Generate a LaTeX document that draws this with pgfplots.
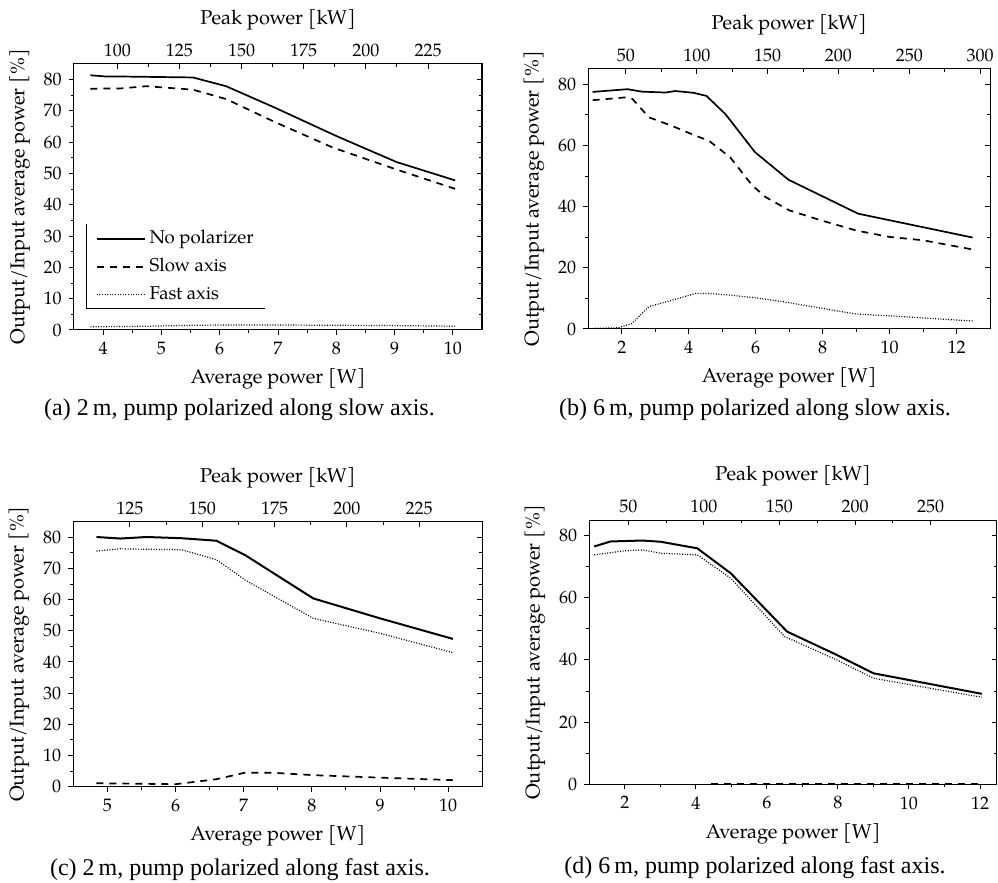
\documentclass[border=0pt]{standalone}
\usepackage{pgfplots}
\pgfplotsset{compat=1.18}
\usepackage{fontspec}
\setmainfont{Liberation Serif}
\newfontfamily\pal{TeX Gyre Pagella}

% shared look of every panel
\pgfplotsset{
  base/.style={
    scale only axis, anchor=south west,
    ymin=0, ymax=85,
    axis line style={line width=0.5pt,-},
    every tick/.style={line width=0.5pt,black},
    major tick length=2.6pt, minor tick length=1.5pt,
    tick label style={font=\pal\fontsize{9}{10}\selectfont},
    label style={font=\pal\fontsize{10}{12}\selectfont},
    /pgf/number format/assume math mode=true,
  },
  lowerleft/.style={
    base, tick align=outside,
    xtick pos=left, ytick pos=left,
    minor x tick num=1, minor y tick num=1,
    xlabel={Average power [W]},
    ylabel={Output/Input average power [\%]},
    no markers,
  },
  upperright/.style={
    base, tick align=inside,
    axis x line*=top, axis y line*=right,
    minor x tick num=1, minor y tick num=1,
    yticklabels={},
    xlabel={Peak power [kW]},
  },
  nopol/.style={black, line width=0.85pt},
  slow/.style={black, line width=0.85pt, dash pattern=on 3.5pt off 3pt},
  fast/.style={black, line width=0.6pt, dash pattern=on 0.5pt off 0.8pt},
}

\begin{document}
\begin{tikzpicture}
\useasboundingbox (0,0) rectangle (499pt,441.5pt);

% ---------------- (a) 2 m, slow-axis pump ----------------
\begin{axis}[lowerleft, at={(37pt,276.5pt)}, width=204pt, height=133pt,
  xmin=3.5, xmax=10.5, xtick={4,...,10}, ytick={0,10,...,80},
  legend cell align=left,
  legend image code/.code={\draw[#1] (0pt,0pt) -- (24pt,0pt);},
  legend style={draw=none, fill=none, at={(rel axis cs:0.053,0.397)},
    anchor=north west, inner sep=0pt, row sep=0pt,
    font=\pal\fontsize{9.3}{11}\selectfont,
    nodes={text height=7pt, text depth=2pt, inner ysep=2.5pt, inner xsep=2pt}},
]
\addplot[nopol] coordinates {(3.78,81.4) (4.05,81.0) (4.3,81.0) (5.54,80.7)
  (6.11,77.9) (6.94,71.1) (8.0,62.0) (9.03,53.7) (10.04,47.8)};
\addlegendentry{No polarizer}
\addplot[slow] coordinates {(3.78,77.1) (4.3,77.2) (4.74,77.9) (5.54,76.8)
  (6.11,73.8) (6.94,66.5) (7.94,58.3) (9.03,51.3) (10.04,45.1)};
\addlegendentry{Slow axis}
\addplot[fast] coordinates {(3.78,1.0) (4.74,1.2) (5.54,1.5) (6.11,1.6)
  (6.94,1.6) (8.0,1.5) (9.03,1.4) (10.04,1.2)};
\addlegendentry{Fast axis}
% open frame of the legend: left and bottom edges only
\draw[line width=0.5pt] (axis cs:3.72,33.9) |- (axis cs:6.78,7.0);
\end{axis}
\begin{axis}[upperright, at={(37pt,276.5pt)}, width=204pt, height=133pt,
  xmin=82.6, xmax=246.7, xtick={100,125,...,225}, ytick={0,10,...,80}]
\end{axis}
\node[font=\fontsize{12}{14}\selectfont] at (119.75pt,236.5pt)
  {(a) 2\,m, pump polarized along slow axis.};

% ---------------- (b) 6 m, slow-axis pump ----------------
\begin{axis}[lowerleft, at={(294.15pt,277pt)}, width=200.85pt, height=130pt,
  xmin=1, xmax=13, xtick={2,4,...,12}, ytick={0,20,...,80}]
\addplot[nopol] coordinates {(1.13,77.5) (2.17,78.4) (2.6,77.6) (3.31,77.3)
  (3.6,77.8) (4.15,77.2) (4.53,76.2) (5.1,70.2) (5.98,57.8) (6.98,48.8)
  (9.06,37.7) (12.48,29.9)};
\addplot[slow] coordinates {(1.13,74.8) (2.1,75.7) (2.32,75.2) (2.81,69.2)
  (3.5,66.4) (4.2,63.2) (4.6,61.6) (5.24,56.1) (5.9,46.9) (6.3,43.1)
  (7.0,38.8) (7.96,35.5) (9.0,32.2) (10.0,30.1) (11.0,29.0) (12.48,26.0)};
\addplot[fast] coordinates {(1.13,0.2) (1.9,0.4) (2.3,1.8) (2.81,7.3)
  (3.5,9.4) (4.2,11.6) (4.6,11.6) (5.2,11.1) (6.0,10.2) (7.0,8.6)
  (8.0,6.7) (9.0,4.9) (10.0,4.3) (12.48,2.6)};
\end{axis}
\begin{axis}[upperright, at={(294.15pt,277pt)}, width=200.85pt, height=130pt,
  xmin=23.4, xmax=307, xtick={50,100,...,300}, ytick={0,20,...,80}]
\end{axis}
\node[font=\fontsize{12}{14}\selectfont] at (377.5pt,236.5pt)
  {(b) 6\,m, pump polarized along slow axis.};

% ---------------- (c) 2 m, fast-axis pump ----------------
\begin{axis}[lowerleft, at={(36.65pt,48.15pt)}, width=204.5pt, height=132.5pt,
  xmin=4.5, xmax=10.5, xtick={5,...,10}, ytick={0,10,...,80}]
\addplot[nopol, line width=1pt] coordinates {(4.84,80.1) (5.19,79.6) (5.58,80.1)
  (6.09,79.7) (6.6,78.9) (7.02,74.3) (8.02,60.4) (9.0,54.0) (10.07,47.4)};
\addplot[slow] coordinates {(4.84,1.1) (6.0,0.8) (6.6,2.4) (7.02,4.5)
  (7.4,4.5) (8.02,3.7) (9.0,2.9) (10.07,2.1)};
\addplot[fast] coordinates {(4.84,75.6) (5.19,76.3) (6.09,76.0) (6.6,72.8)
  (7.02,66.3) (8.02,54.0) (9.0,49.2) (10.07,43.0)};
\end{axis}
\begin{axis}[upperright, at={(36.65pt,48.15pt)}, width=204.5pt, height=132.5pt,
  xmin=105.4, xmax=246.8, xtick={125,150,...,225}, ytick={0,10,...,80}]
\end{axis}
\node[font=\fontsize{12}{14}\selectfont] at (120pt,6.5pt)
  {(c) 2\,m, pump polarized along fast axis.};

% ---------------- (d) 6 m, fast-axis pump ----------------
\begin{axis}[lowerleft, at={(294.65pt,49.35pt)}, width=203.7pt, height=132.15pt,
  xmin=1, xmax=12.47, xtick={2,4,...,12}, ytick={0,20,...,80}]
\addplot[nopol, line width=1pt] coordinates {(1.14,76.5) (1.6,78.1) (2.5,78.4)
  (3.01,78.0) (4.04,75.9) (4.98,67.9) (6.57,49.1) (7.97,41.6) (9.0,35.7)
  (12.05,29.1)};
\addplot[slow] coordinates {(4.42,0.25) (12.05,0.25)};
\addplot[fast] coordinates {(1.14,73.8) (2.0,75.1) (2.5,75.4) (3.01,74.3)
  (4.04,73.8) (4.98,66.3) (6.5,47.5) (7.97,40.0) (9.0,34.1) (12.05,28.0)};
\end{axis}
\begin{axis}[upperright, at={(294.65pt,49.35pt)}, width=203.7pt, height=132.15pt,
  xmin=24.2, xmax=293.7, xtick={50,100,...,250}, ytick={0,20,...,80}]
\end{axis}
\node[font=\fontsize{12}{14}\selectfont] at (377.5pt,7.5pt)
  {(d) 6\,m, pump polarized along fast axis.};
\end{tikzpicture}
\end{document}
